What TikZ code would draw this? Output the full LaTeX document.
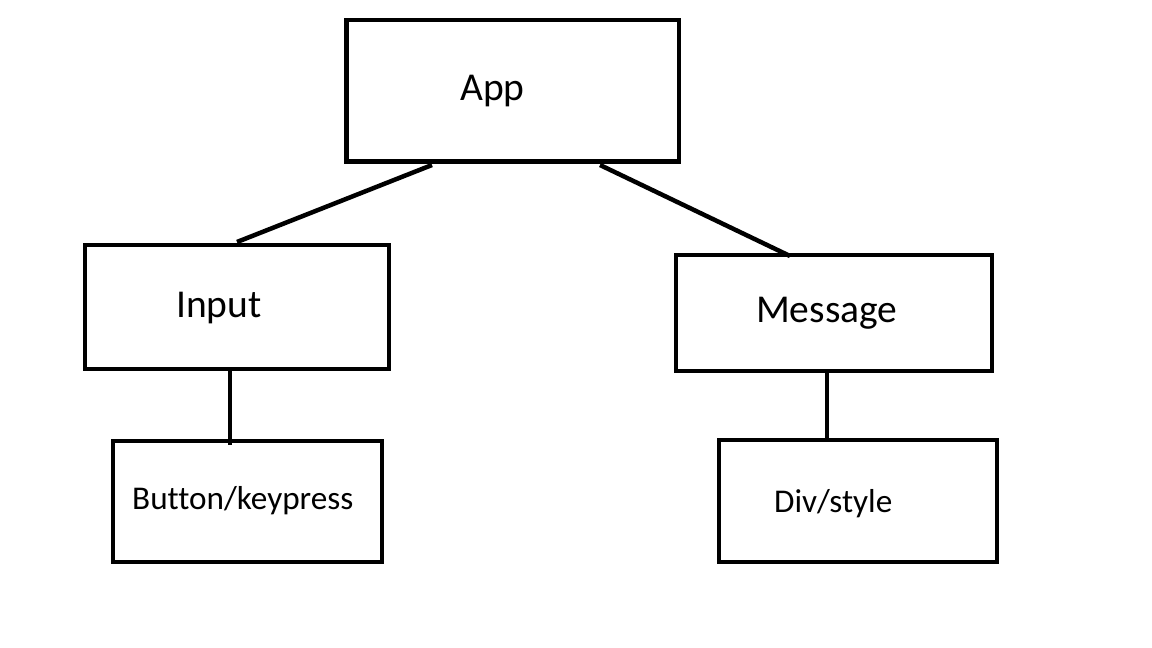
\documentclass[tikz,border=0pt]{standalone}
\usepackage{fontspec}
\setmainfont{Carlito}[Ligatures={NoCommon}]
\begin{document}
\begin{tikzpicture}[x=1pt,y=-1pt,
  box/.style={draw=black,line width=4.5pt,rectangle,inner sep=0pt,outer sep=0pt},
  big/.style={anchor=base west,inner sep=0pt,font=\fontsize{39.5}{41}\selectfont},
  small/.style={anchor=base west,inner sep=0pt,font=\fontsize{33.2}{35}\selectfont},
  link/.style={draw=black,line width=4.5pt}]
\useasboundingbox[fill=white] (0,0) rectangle (1152,648);
\node[box,minimum width=332.5pt,minimum height=141.5pt] (app) at (512.75,90.75) {};
\node[box,minimum width=304pt,minimum height=124pt] (input) at (237,307) {};
\node[box,minimum width=316pt,minimum height=116pt] (msg) at (834,313) {};
\node[box,minimum width=269pt,minimum height=121pt] (btn) at (247.5,501.5) {};
\node[box,minimum width=278pt,minimum height=122pt] (div) at (858,501) {};
\node[big] (tapp) at (460,100) {App};
\node[big] (tinput) at (176,317) {Input};
\node[big] (tmsg) at (756,322) {Message};
\node[small] (tbtn) at (132,509) {Button/keypress};
\node[small] (tdiv) at (774,512) {Div/style};
\coordinate (a1) at (432,165);
\coordinate (a2) at (600,165);
\coordinate (i1) at (237,242);
\coordinate (m1) at (790,256);
\coordinate (i2) at (230,369);
\coordinate (b1) at (230,445);
\coordinate (m2) at (827,371);
\coordinate (d1) at (827,438);
\draw[link] (a1) -- (i1);
\draw[link] (a2) -- (m1);
\draw[link] (i2) -- (b1);
\draw[link] (m2) -- (d1);
\end{tikzpicture}
\end{document}
